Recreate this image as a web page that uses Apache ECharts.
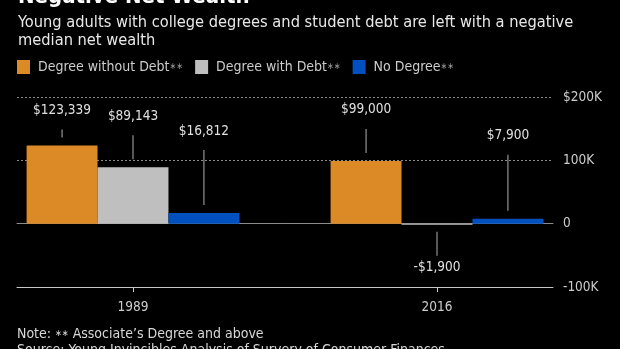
<!DOCTYPE html>
<html><head><meta charset="utf-8">
<script src="https://cdn.jsdelivr.net/npm/echarts@6/dist/echarts.min.js"></script>
<style>html,body{margin:0;padding:0;background:#000;}#c{width:620px;height:349px;}</style>
</head><body><div id="c"></div>
<script>
const categories = ['1989', '2016'];
const seriesNames = ['Degree without Debt∗∗', 'Degree with Debt∗∗', 'No Degree∗∗'];
const degreeWithoutDebt = [123339, 99000];
const degreeWithDebt = [89143, -1900];
const noDegree = [16812, 7900];
const yTicks = [-100000, 0, 100000, 200000];
const yTickLabels = ['-100K', '0', '100K', '$200K'];

// layout: leader line length (px) per series per category
const leaderLen = [[8, 24], [24, 24], [55, 56]];
const colors = ['#dc8a26', '#bfbfbf', '#0050c0'];
const FONT = '"Liberation Sans Narrow", "DejaVu Sans Condensed", sans-serif';

function fmt(v) {
  const s = '$' + Math.abs(v).toLocaleString('en-US');
  return v < 0 ? '-' + s : s;
}

const values = [degreeWithoutDebt, degreeWithDebt, noDegree];
const series = values.map((arr, si) => ({
  name: seriesNames[si],
  type: 'bar',
  xAxisIndex: 2,
  yAxisIndex: 1,
  barGap: '0%',
  barCategoryGap: '30%',
  clip: false,
  itemStyle: { color: colors[si] },
  data: arr.map((v, ci) => {
    const L = leaderLen[si][ci];
    const neg = v < 0;
    return {
      value: v,
      label: {
        show: true,
        position: neg ? 'bottom' : 'top',
        distance: neg ? 7 : 8,
        formatter: neg ? ('{l| }\n{s| }\n{v|' + fmt(v) + '}') : ('{v|' + fmt(v) + '}\n{s| }\n{l| }'),
        rich: {
          v: { color: '#e0e0e0', fontSize: 13.5, fontFamily: FONT, lineHeight: 18, align: 'center' },
          s: { height: neg ? 3 : 10, lineHeight: neg ? 3 : 10, fontSize: 1, width: 1, align: 'center' },
          l: { width: 1, height: L, lineHeight: L, fontSize: 1, backgroundColor: '#b0b0b0', align: 'center' }
        }
      }
    };
  })
}));

const chart = echarts.init(document.getElementById('c'), null, { renderer: 'canvas' });
chart.setOption({
  backgroundColor: '#000',
  animation: false,
  title: [
    { text: 'Negative Net Wealth', left: 18, top: -14, padding: 0,
      textStyle: { color: '#fff', fontSize: 22, fontWeight: 'bold', fontFamily: FONT } },
    { text: 'Young adults with college degrees and student debt are left with a negative\nmedian net wealth',
      left: 18, top: 14, padding: 0,
      textStyle: { color: '#e8e8e8', fontSize: 16.3, fontWeight: 'normal', fontFamily: FONT, lineHeight: 18 } },
    { text: '{t|Note: }{s|∗∗}{t| Associate’s Degree and above}\n{t|Source: Young Invincibles Analysis of Survery of Consumer Finances}',
      left: 17, top: 326, padding: 0,
      textStyle: { color: '#d8d8d8', fontFamily: FONT, fontWeight: 'normal', lineHeight: 16,
        rich: { t: { fontSize: 14, color: '#d8d8d8', fontFamily: FONT, fontWeight: 'normal', lineHeight: 16 },
                s: { fontSize: 9, color: '#d8d8d8', fontFamily: FONT, fontWeight: 'normal', lineHeight: 16 } } } }
  ],
  legend: {
    left: 17, top: 60, padding: 0, icon: 'rect', itemWidth: 13, itemHeight: 14, itemGap: 12,
    formatter: name => '{t|' + name.replace(/∗/g, '') + '}{s|∗∗}',
    textStyle: { color: '#cccccc', fontSize: 14, fontFamily: FONT, padding: [0, 0, 0, 3],
      rich: { t: { fontSize: 14, color: '#cccccc', fontFamily: FONT },
              s: { fontSize: 9, color: '#999999', fontFamily: FONT } } },
    data: seriesNames
  },
  grid: [
    { left: 17, right: 67, top: 97, bottom: 62 },
    { left: 133, right: 183, top: 97, bottom: 62 }
  ],
  xAxis: [
    { type: 'value', gridIndex: 0, min: 0, max: 1, position: 'bottom',
      axisLine: { show: true, onZero: false, lineStyle: { color: '#c8c8c8', width: 1 } },
      axisTick: { show: false }, axisLabel: { show: false }, splitLine: { show: false } },
    { type: 'value', gridIndex: 0, min: 0, max: 1, position: 'top',
      axisLine: { show: true, onZero: true, lineStyle: { color: '#8a8a8a', width: 1 } },
      axisTick: { show: false }, axisLabel: { show: false }, splitLine: { show: false } },
    { type: 'category', gridIndex: 1, data: categories, position: 'bottom', boundaryGap: false,
      axisLine: { show: false, onZero: false },
      axisTick: { show: true, length: 5, lineStyle: { color: '#c8c8c8' } },
      axisLabel: { color: '#cccccc', fontSize: 13.5, fontFamily: FONT, margin: 13 },
      splitLine: { show: false } }
  ],
  yAxis: [
    { type: 'value', gridIndex: 0, position: 'right', min: yTicks[0], max: yTicks[yTicks.length - 1], interval: 100000,
      axisLine: { show: false }, axisTick: { show: false },
      axisLabel: { color: '#cccccc', fontSize: 13.5, fontFamily: FONT, margin: 10,
        formatter: v => yTickLabels[yTicks.indexOf(v)] },
      splitLine: { show: true, lineStyle: { color: '#8a8a8a', type: [2, 2], width: 1 } } },
    { type: 'value', gridIndex: 1, min: yTicks[0], max: yTicks[yTicks.length - 1], interval: 100000, show: false,
      splitLine: { show: false } }
  ],
  series: series
});
</script></body></html>
